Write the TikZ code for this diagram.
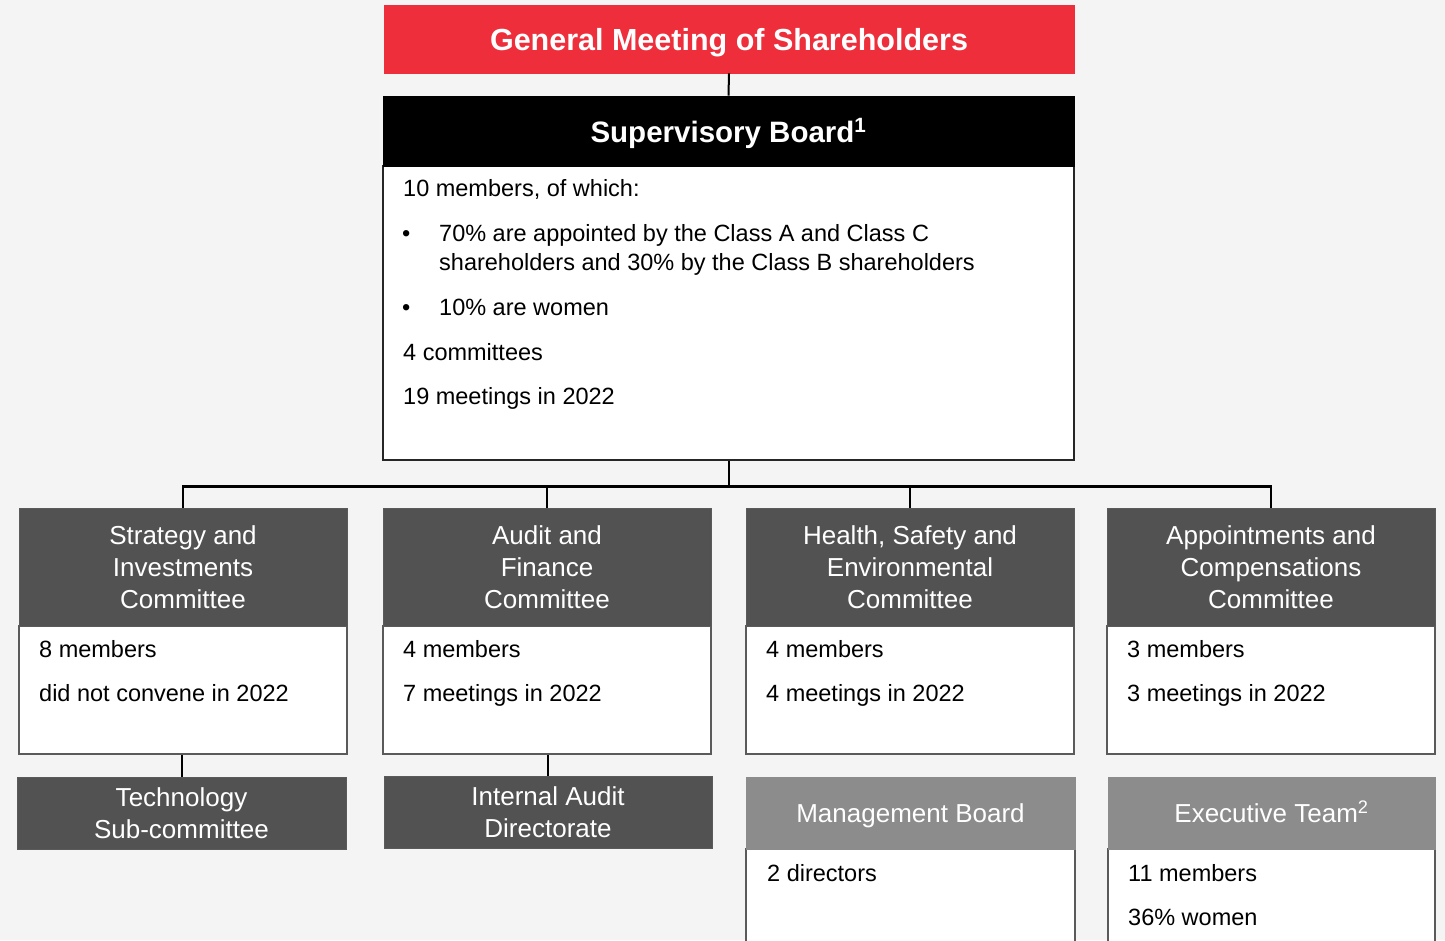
\documentclass[tikz,border=0pt]{standalone}
\usepackage{fontspec}
\setmainfont{Liberation Sans}
\definecolor{bgc}{HTML}{F4F4F4}
\definecolor{redc}{HTML}{EE2E3A}
\definecolor{darkc}{HTML}{525252}
\definecolor{lightc}{HTML}{8C8C8C}
\definecolor{linec}{HTML}{5A5A5A}
\tikzset{
  hdr/.style={inner sep=0pt, align=center, text=white, draw=linec, line width=0.8pt},
  hdrtxt/.style={inner sep=0pt, anchor=base, text=white},
  bodybox/.style={inner sep=0pt, fill=white, draw=linec, line width=1.4pt},
  conn/.style={draw=black, line width=2pt},
  bustxt/.style={inner sep=0pt, anchor=base west, font=\fontsize{23.5}{28}\selectfont},
  comtxt/.style={font=\fontsize{26}{32}\selectfont},
}
\begin{document}
\begin{tikzpicture}[x=1pt,y=-1pt]
\fill[bgc] (0,0) rectangle (1445,940);
\clip (0,0) rectangle (1445,940);
% general meeting
\node[hdr, fill=redc, draw=redc, minimum width=690pt, minimum height=68pt] (gm) at (729,39) {};
\node[hdrtxt, font=\fontsize{30.5}{34}\selectfont\bfseries] (gmt) at (729,50) {General Meeting of Shareholders};
% supervisory board
\node[bodybox, draw=black!85, minimum width=691pt, minimum height=294pt] (sbb) at (728.5,313) {};
\node[hdr, fill=black, draw=black, minimum width=691pt, minimum height=70pt] (sbh) at (728.5,131) {};
\node[hdrtxt, font=\fontsize{29.5}{34}\selectfont\bfseries] (sbt) at (728.5,142) {Supervisory Board\textsuperscript{1}};
\node[bustxt] (s1) at (403,196.5) {10 members, of which:};
\node[bustxt] (s2) at (402,241.5) {•};
\node[bustxt] (s3a) at (439,241.5) {70\% are appointed by the Class A and Class C};
\node[bustxt] (s3b) at (439,270.5) {shareholders and 30\% by the Class B shareholders};
\node[bustxt] (s4) at (402,315.5) {•};
\node[bustxt] (s5) at (439,315.5) {10\% are women};
\node[bustxt] (s6) at (403,360.5) {4 committees};
\node[bustxt] (s7) at (403,404.5) {19 meetings in 2022};
\draw[conn] (gm.south) -- (sbh.north);
% committees
\foreach \n/\x/\t/\a/\b in {
  c1/183/{Strategy and\\Investments\\Committee}/{8 members}/{did not convene in 2022},
  c2/547/{Audit and\\Finance\\Committee}/{4 members}/{7 meetings in 2022},
  c3/910/{Health, Safety and\\Environmental\\Committee}/{4 members}/{4 meetings in 2022},
  c4/1271/{Appointments and\\Compensations\\Committee}/{3 members}/{3 meetings in 2022}}{
  \node[bodybox, minimum width=328pt, minimum height=128pt] (\n b) at (\x,690) {};
  \node[hdr, comtxt, fill=darkc, minimum width=328pt, minimum height=118pt] (\n) at (\x,567) {\t};
  \node[bustxt] (\n t1) at (\x-144,657.5) {\a};
  \node[bustxt] (\n t2) at (\x-144,701.5) {\b};
}
\draw[conn] (sbb.south) -- ++(0,26) coordinate (bus);
\draw[conn, line width=2.5pt] (c1.north) |- (bus) -| (c4.north);
\draw[conn] (c2.north) -- (c2.north |- bus);
\draw[conn] (c3.north) -- (c3.north |- bus);
% sub boxes
\node[hdr, comtxt, fill=darkc, minimum width=329pt, minimum height=72pt] (tsc) at (181.5,813) {Technology\\Sub-committee};
\node[hdr, comtxt, fill=darkc, minimum width=328pt, minimum height=72pt] (iad) at (548,812) {Internal Audit\\Directorate};
\draw[conn] (tsc.north) -- (tsc.north |- c1b.south);
\draw[conn] (iad.north) -- (iad.north |- c2b.south);
% management board / executive team
\node[bodybox, minimum width=329pt, minimum height=120pt] (mbb) at (910.5,909) {};
\node[hdr, fill=lightc, draw=lightc, minimum width=329pt, minimum height=72pt] (mb) at (910.5,813) {};
\node[hdrtxt, comtxt] (mbt0) at (910.5,822.5) {Management Board};
\node[bustxt] (mbt) at (767,881.5) {2 directors};
\node[bodybox, minimum width=327pt, minimum height=120pt] (etb) at (1271.5,909) {};
\node[hdr, fill=lightc, draw=lightc, minimum width=327pt, minimum height=72pt] (et) at (1271.5,813) {};
\node[hdrtxt, comtxt] (ett0) at (1271.5,822.5) {Executive Team\textsuperscript{2}};
\node[bustxt] (ett1) at (1128,881.5) {11 members};
\node[bustxt] (ett2) at (1128,925.5) {36\% women};
\end{tikzpicture}
\end{document}
